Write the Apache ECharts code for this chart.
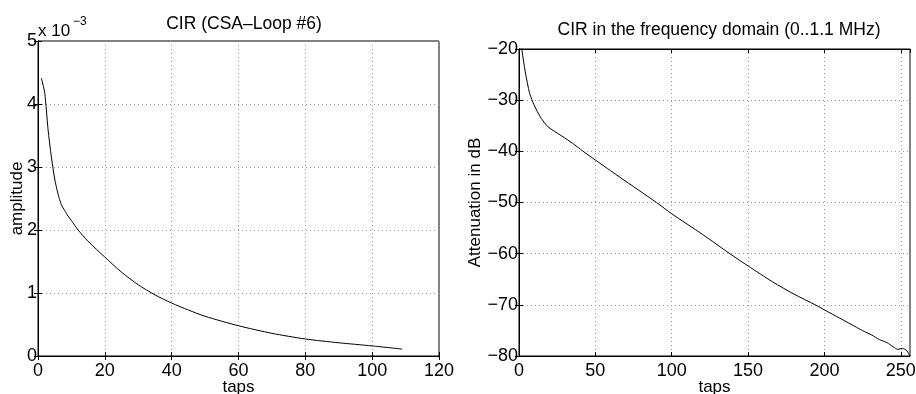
<!DOCTYPE html>
<html>
<head>
<meta charset="utf-8">
<script src="https://cdn.jsdelivr.net/npm/echarts@6/dist/echarts.min.js"></script>
<style>
  html, body { margin: 0; padding: 0; background: #fff; }
  #chart { width: 916px; height: 394px; }
</style>
</head>
<body>
<div id="chart"></div>
<script>
// left plot: channel impulse response, amplitude in units of 1e-3
const tapsCir = [1, 2, 3, 4, 5, 6, 7, 8, 9, 10, 12, 15, 20, 25, 30, 35, 40, 45, 50, 60, 70, 80, 90, 100, 109]
const amplitudeE3 = [4.41, 4.18, 3.6, 3.16, 2.81, 2.57, 2.4, 2.31, 2.22, 2.15, 2.0, 1.82, 1.57, 1.33, 1.13, 0.97, 0.84, 0.73, 0.63, 0.48, 0.36, 0.27, 0.21, 0.16, 0.11]

// right plot: attenuation in dB
const tapsFreq = [1, 2, 4, 7, 10, 14, 19, 28, 35, 42, 50, 60, 75, 90, 100, 120, 138, 150, 166, 180, 194, 200, 210, 221, 226, 231, 236, 241, 245, 248, 251, 254, 256]
const attenuation = [-18.5, -20.4, -24.3, -28.7, -31.0, -33.3, -35.2, -37.0, -38.4, -40.0, -41.7, -43.8, -46.9, -50.0, -52.2, -56.2, -60.0, -62.4, -65.5, -67.9, -70.0, -71.0, -72.6, -74.4, -75.2, -75.9, -76.8, -77.4, -78.2, -78.7, -78.5, -79.0, -80.0]

const FONT = '"Liberation Sans", Arial, Helvetica, sans-serif'
const minus = v => String(v).replace('-', '\u2212')

const chart = echarts.init(document.getElementById('chart'))

function xAx(gridIndex, max, interval, top) {
  return {
    type: 'value',
    gridIndex: gridIndex,
    position: top ? 'top' : 'bottom',
    min: 0,
    max: max,
    interval: interval,
    name: top ? '' : 'taps',
    nameLocation: 'middle',
    nameGap: 23,
    nameMoveOverlap: false,
    nameTextStyle: { color: '#000', fontSize: 17, fontFamily: FONT },
    axisLine: { show: true, lineStyle: { color: '#000', width: 1 } },
    axisTick: { show: true, inside: true, length: 4, lineStyle: { color: '#000' } },
    axisLabel: { show: !top, color: '#000', fontSize: 18, fontFamily: FONT, margin: 6, showMaxLabel: max % interval === 0 },
    splitLine: { show: !top, lineStyle: { color: '#999', type: [1, 3], width: 1 } }
  }
}

function yAx(gridIndex, min, max, interval, name, gap, right) {
  return {
    type: 'value',
    gridIndex: gridIndex,
    position: right ? 'right' : 'left',
    min: min,
    max: max,
    interval: interval,
    name: right ? '' : name,
    nameLocation: 'middle',
    nameGap: gap,
    nameMoveOverlap: false,
    nameTextStyle: { color: '#000', fontSize: 17, fontFamily: FONT },
    axisLine: { show: true, lineStyle: { color: '#000', width: 1 } },
    axisTick: { show: true, inside: true, length: 4, lineStyle: { color: '#000' } },
    axisLabel: { show: !right, color: '#000', fontSize: 18, fontFamily: FONT, margin: 1, formatter: minus },
    splitLine: { show: !right, lineStyle: { color: '#999', type: [1, 3], width: 1 } }
  }
}

chart.setOption({
  backgroundColor: '#fff',
  animation: false,
  title: [
    {
      text: 'CIR (CSA\u2013Loop #6)',
      left: 239, top: 10, textAlign: 'center',
      textStyle: { color: '#000', fontSize: 17.5, fontWeight: 'normal', fontFamily: FONT }
    },
    {
      text: 'CIR in the frequency domain (0..1.1 MHz)',
      left: 714, top: 16, textAlign: 'center',
      textStyle: { color: '#000', fontSize: 17.5, fontWeight: 'normal', fontFamily: FONT }
    }
  ],
  graphic: [
    { type: 'text', left: 38, top: 23, style: { text: 'x 10', fill: '#000', fontSize: 17, fontFamily: FONT } },
    { type: 'text', left: 73, top: 16, style: { text: '\u22123', fill: '#000', fontSize: 12, fontFamily: FONT } }
  ],
  grid: [
    { left: 38, top: 41, width: 401, height: 315, show: true, borderColor: '#000', borderWidth: 1, containLabel: false, outerBoundsMode: 'none' },
    { left: 519, top: 49, width: 391, height: 307, show: true, borderColor: '#000', borderWidth: 1, containLabel: false, outerBoundsMode: 'none' }
  ],
  xAxis: [
    xAx(0, 120, 20, false),
    xAx(0, 120, 20, true),
    xAx(1, 256, 50, false),
    xAx(1, 256, 50, true)
  ],
  yAxis: [
    yAx(0, 0, 5, 1, 'amplitude', 12, false),
    yAx(0, 0, 5, 1, '', 0, true),
    yAx(1, -80, -20, 10, 'Attenuation in dB', 35, false),
    yAx(1, -80, -20, 10, '', 0, true)
  ],
  series: [
    {
      type: 'line',
      xAxisIndex: 0,
      yAxisIndex: 0,
      data: tapsCir.map((t, i) => [t, amplitudeE3[i]]),
      showSymbol: false,
      smooth: 0.25,
      lineStyle: { color: '#000', width: 1 }
    },
    {
      type: 'line',
      xAxisIndex: 2,
      yAxisIndex: 2,
      data: tapsFreq.map((t, i) => [t, attenuation[i]]),
      showSymbol: false,
      smooth: 0.25,
      clip: true,
      lineStyle: { color: '#000', width: 1 }
    }
  ]
})
</script>
</body>
</html>
